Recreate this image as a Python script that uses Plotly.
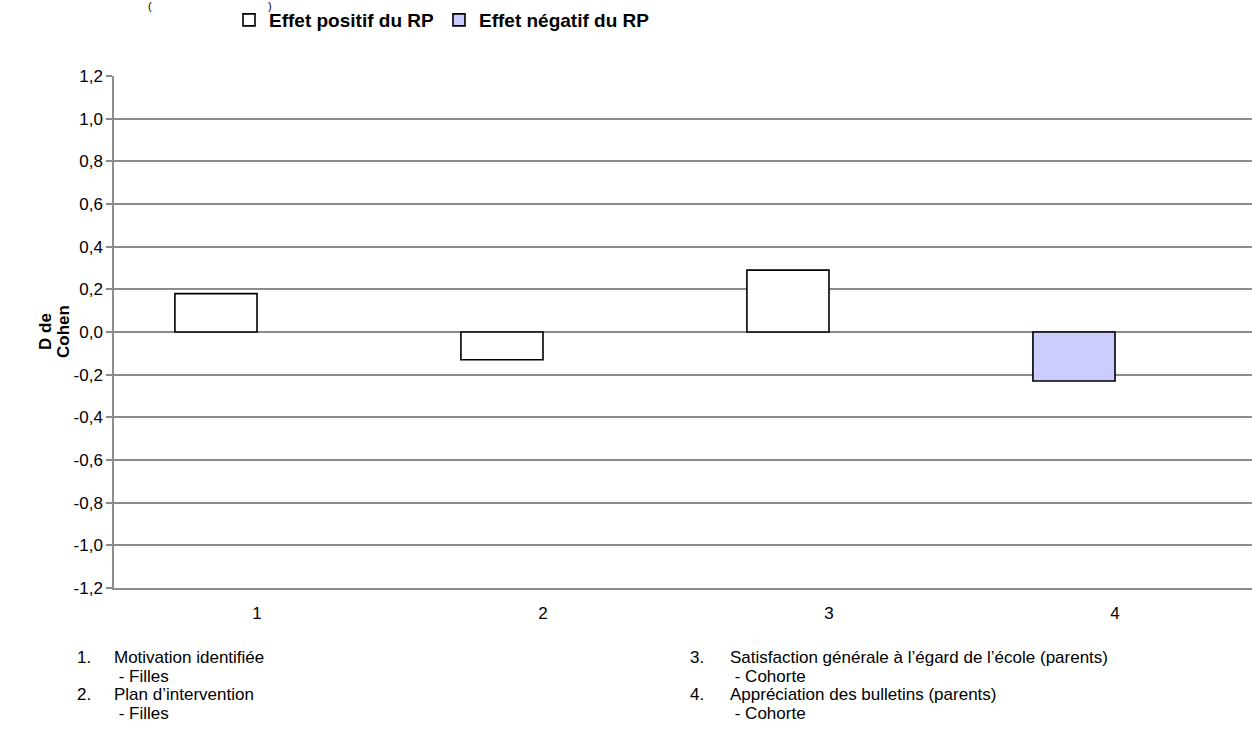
import plotly.graph_objects as go

# Effect sizes (Cohen's d) by outcome
categories = [1, 2, 3, 4]
effet_positif = [0.18, -0.13, 0.29, None]
effet_negatif = [None, None, None, -0.23]

# Footnote descriptions of each outcome
descriptions = [
    "Motivation identifiée",
    "Plan d’intervention",
    "Satisfaction générale à l’égard de l’école (parents)",
    "Appréciation des bulletins (parents)",
]
groupes = ["Filles", "Filles", "Cohorte", "Cohorte"]

y_ticks = [-1.2, -1.0, -0.8, -0.6, -0.4, -0.2, 0.0, 0.2, 0.4, 0.6, 0.8, 1.0, 1.2]
y_ticktext = [f"{v:.1f}".replace(".", ",") for v in y_ticks]
y_title_lines = ["D de", "Cohen"]

W, H = 1252, 740
ML, MR, MT, MB = 114, 0, 76, 152
PW, PH = W - ML - MR, H - MT - MB
UNIT = 286.0  # pixels per category slot

GRID = "#8c8c8c"
FONT = "Liberation Sans, Arial, sans-serif"

bar_w = 0.287
fig = go.Figure()
fig.add_trace(go.Bar(
    x=categories, y=effet_positif, name="Effet positif du RP",
    width=bar_w, offset=-bar_w,
    marker=dict(color="#ffffff", line=dict(color="#000000", width=1.6)),
))
fig.add_trace(go.Bar(
    x=categories, y=effet_negatif, name="Effet négatif du RP",
    width=bar_w, offset=-bar_w,
    marker=dict(color="#ccccff", line=dict(color="#000000", width=1.6)),
))


def px_x(px):
    return (px - ML) / PW


def px_y(py):
    return (H - MB - py) / PH


annotations = []
left_cols = [(75, 112), (75, 112), (688, 728), (688, 728)]
rows = [(657, 676), (694, 713), (657, 676), (694, 713)]
for i, (cat, desc, grp) in enumerate(zip(categories, descriptions, groupes)):
    xn, xt = left_cols[i]
    y1, y2 = rows[i]
    common = dict(xref="paper", yref="paper", showarrow=False,
                  xanchor="left", yanchor="middle",
                  font=dict(family=FONT, size=17, color="#000000"))
    annotations.append(dict(x=px_x(xn), y=px_y(y1), text=f"{cat}.", **common))
    annotations.append(dict(x=px_x(xt), y=px_y(y1), text=desc, **common))
    annotations.append(dict(x=px_x(xt), y=px_y(y2), text=f" - {grp}", **common))

# Vertical axis title, two rotated lines
for xp, line in zip([45, 63], y_title_lines):
    annotations.append(dict(x=px_x(xp), y=px_y(332), xref="paper", yref="paper",
                            text=f"<b>{line}</b>", textangle=-90, showarrow=False,
                            xanchor="center", yanchor="middle",
                            font=dict(family=FONT, size=17, color="#000000")))

# Title line fragments at the top edge
for xp, ch in [(150, "("), (270, ")")]:
    annotations.append(dict(x=px_x(xp), y=px_y(6), xref="paper", yref="paper",
                            text=ch, showarrow=False, xanchor="center",
                            yanchor="middle",
                            font=dict(family=FONT, size=11, color="#000000")))

fig.update_layout(
    width=W, height=H,
    margin=dict(l=ML, r=MR, t=MT, b=MB),
    paper_bgcolor="#ffffff", plot_bgcolor="#ffffff",
    barmode="overlay",
    showlegend=True,
    legend=dict(
        orientation="h", x=px_x(442), xanchor="center",
        y=px_y(1), yanchor="top",
        font=dict(family=FONT, size=19, color="#000000", weight="bold"),
        itemwidth=30, bgcolor="rgba(0,0,0,0)",
    ),
    xaxis=dict(
        range=[0.5, 0.5 + PW / UNIT],
        tickvals=categories, ticktext=[str(c) for c in categories],
        showgrid=False, zeroline=False,
        showline=True, linecolor=GRID, linewidth=1.5,
        ticks="", ticklabelstandoff=9,
        tickfont=dict(family=FONT, size=17, color="#000000"),
        fixedrange=True,
    ),
    xaxis2=dict(
        overlaying="x", matches="x", anchor="free", position=0.5,
        side="bottom", showticklabels=False, showgrid=False, zeroline=False,
        showline=False, ticks="outside", ticklen=5, tickwidth=1.5,
        tickcolor=GRID, tickvals=[1.5, 2.5, 3.5],
    ),
    yaxis=dict(
        range=[-1.2, 1.2], tickvals=y_ticks, ticktext=y_ticktext,
        showgrid=True, gridcolor=GRID, gridwidth=1.5,
        zeroline=True, zerolinecolor=GRID, zerolinewidth=1.5,
        showline=True, linecolor=GRID, linewidth=1.5,
        ticks="outside", ticklen=6, tickwidth=1.5, tickcolor=GRID,
        tickfont=dict(family=FONT, size=17, color="#000000"),
        fixedrange=True,
    ),
    annotations=annotations,
)

fig.write_html("out.html")
